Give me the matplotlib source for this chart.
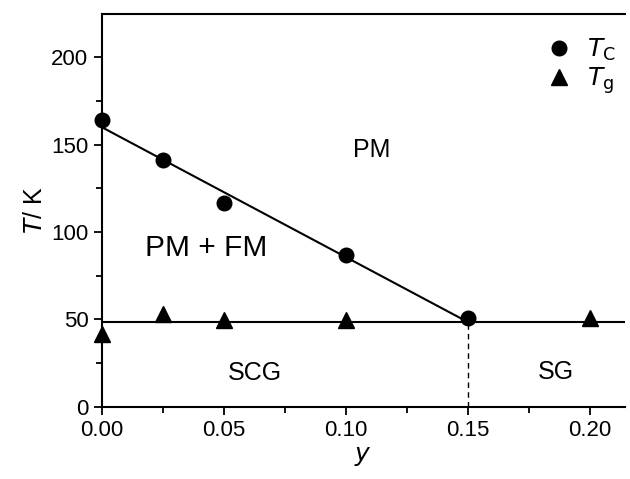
import numpy as np
import matplotlib.pyplot as plt
from matplotlib.ticker import MultipleLocator

plt.rcParams['font.family'] = ['Liberation Sans', 'DejaVu Sans']

# data
y_c = [0.0, 0.025, 0.05, 0.10, 0.15]
T_c = [164, 141, 116.5, 87, 50.5]
y_g = [0.0, 0.025, 0.05, 0.10, 0.20]
T_g = [41.5, 53, 49.5, 49.5, 50.5]
line_y = [0.0, 0.15]
line_T = [160, 48.5]
T_flat = 48.5
y_cross = 0.15

fig = plt.figure(figsize=(6.3, 4.79), dpi=100)
ax = fig.add_axes([0.1614, 0.151, 0.8306, 0.820])

ax.plot(line_y, line_T, color='black', lw=1.5, zorder=2)
ax.axhline(T_flat, color='black', lw=1.5, zorder=2)
ax.plot([y_cross, y_cross], [0, T_flat], color='black', lw=1.0, ls=(0, (4, 3)), zorder=2)
ax.plot(y_g, T_g, ls='none', marker='^', ms=12, color='black', label=r'$T_{\rm g}$', clip_on=False, zorder=3)
ax.plot(y_c, T_c, ls='none', marker='o', ms=10.5, color='black', label=r'$T_{\rm C}$', clip_on=False, zorder=4)

ax.text(0.1105, 147, 'PM', fontsize=18, ha='center', va='center')
ax.text(0.043, 91, 'PM + FM', fontsize=21.5, ha='center', va='center')
ax.text(0.063, 19.5, 'SCG', fontsize=18, ha='center', va='center')
ax.text(0.186, 20, 'SG', fontsize=18, ha='center', va='center')

ax.set_xlim(0, 0.2145)
ax.set_ylim(0, 224.8)
ax.xaxis.set_major_locator(MultipleLocator(0.05))
ax.xaxis.set_minor_locator(MultipleLocator(0.025))
ax.yaxis.set_major_locator(MultipleLocator(50))
ax.yaxis.set_minor_locator(MultipleLocator(25))
ax.xaxis.set_major_formatter(plt.FuncFormatter(lambda v, p: f'{v:.2f}'))
ax.tick_params(which='both', direction='out', labelsize=16, width=1.3)
ax.tick_params(which='major', length=6)
ax.tick_params(which='minor', length=4)
ax.spines['right'].set_visible(False)
for s in ['left', 'bottom', 'top']:
    ax.spines[s].set_linewidth(1.5)

ax.set_xlabel(r'$\it{y}$', fontsize=18, labelpad=2)
ax.set_ylabel(r'$T$/ K', fontsize=18, labelpad=3)

h, l = ax.get_legend_handles_labels()
ax.legend(h[::-1], l[::-1], loc='upper left', frameon=False, fontsize=18,
          handletextpad=0.7, borderaxespad=0.0, labelspacing=0.1, handlelength=0.8,
          bbox_to_anchor=(0.836, 0.967))

fig.savefig('out.png', dpi=100)
